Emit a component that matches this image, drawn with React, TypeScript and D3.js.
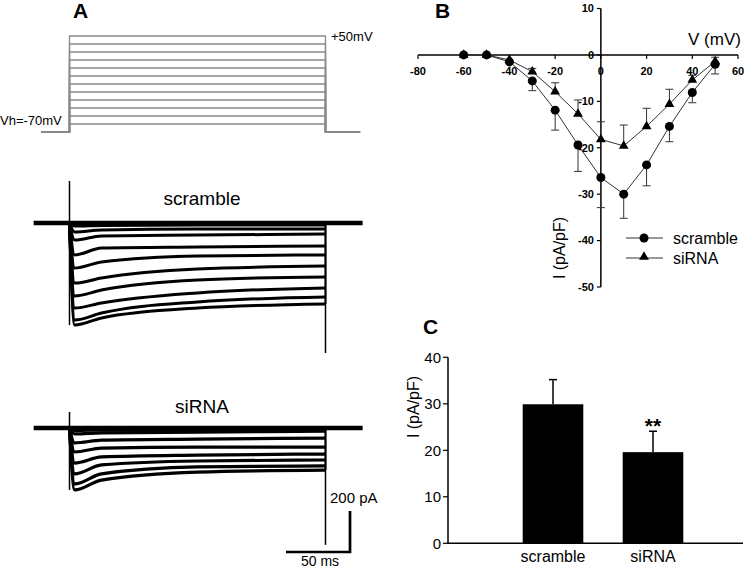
import React from 'react';
import * as d3 from 'd3';

// ---------- Panel A: voltage protocol ----------
const stepVoltages = [-60, -50, -40, -30, -20, -10, 0, 10, 20, 30, 40, 50];
const holdingV = -70;
const protocolStart = -22;
const protocolEnd = 227;
const pulseEnd = 200;

// ---------- Panel A: current traces (pA) read at traceTimes (ms) ----------
const traceTimes = [0, 4, 25, 100, 200];
const scrambleTraces = [
  [0, -498, -463, -415, -395],
  [0, -473, -439, -385, -361],
  [0, -415, -390, -341, -317],
  [0, -356, -327, -278, -263],
  [0, -293, -268, -224, -210],
  [0, -220, -190, -161, -156],
  [0, -156, -122, -117, -112],
  [0, -83, -63, -59, -54],
  [0, -44, -34, -29, -29],
  [0, -15, -12, -10, -10],
];
const sirnaTraces = [
  [0, -302, -254, -215, -205],
  [0, -273, -224, -190, -185],
  [0, -224, -180, -161, -156],
  [0, -171, -141, -132, -127],
  [0, -117, -98, -93, -93],
  [0, -73, -59, -54, -49],
  [0, -29, -24, -20, -15],
  [0, -12, -10, -8, -8],
];
const scrambleTransients = [205, -634]; // onset, tail (pA)
const sirnaTransients = [78, -570];
const recordSpan = [-28, 229];
const scaleBarTime = 50; // ms
const scaleBarCurrent = 200; // pA

// ---------- Panel B: I-V ----------
const ivVoltages = [-60, -50, -40, -30, -20, -10, 0, 10, 20, 30, 40, 50];
const ivScrambleMean = [0, 0, -1.5, -5.6, -11.9, -19.4, -26.4, -30.0, -23.7, -15.4, -8.1, -2.0];
const ivScrambleErr = [0, 0, 0.3, 2.1, 4.3, 5.7, 6.5, 5.2, 4.5, 3.3, 2.2, 2.1];
const ivSirnaMean = [0, 0, -1.1, -3.6, -7.9, -12.7, -18.2, -19.6, -15.4, -10.6, -5.4, -1.4];
const ivSirnaErr = [0, 0, 0.3, 0.7, 1.9, 3.0, 3.8, 4.5, 3.9, 3.2, 1.0, 0.9];
const ivXTicks = [-80, -60, -40, -20, 0, 20, 40, 60];
const ivYTicks = [10, 0, -10, -20, -30, -40, -50];

// ---------- Panel C: bars ----------
const barGroups = ['scramble', 'siRNA'];
const barMeans = [29.9, 19.6];
const barErrs = [5.3, 4.5];
const barYTicks = [0, 10, 20, 30, 40];

const FONT = 'Liberation Sans, Arial, Helvetica, sans-serif';

export default function App() {
  // Panel A scales
  const tX = d3.scaleLinear().domain([0, 200]).range([69.5, 325.5]);
  const vY = d3.scaleLinear().domain([-70, 50]).range([132, 36]);
  const scrY = d3.scaleLinear().domain([0, -200]).range([223, 264]);
  const sirY = d3.scaleLinear().domain([0, -200]).range([428, 469]);

  const protoLine = d3.line<[number, number]>().x(d => tX(d[0])).y(d => vY(d[1]));
  const protoPath = (v: number) =>
    protoLine([
      [protocolStart, holdingV],
      [0, holdingV],
      [0, v],
      [pulseEnd, v],
      [pulseEnd, holdingV],
      [protocolEnd, holdingV],
    ]) as string;

  const traceLine = (yS: d3.ScaleLinear<number, number>) =>
    d3
      .line<number>()
      .x((_, i) => tX(traceTimes[i]))
      .y(d => yS(d))
      .curve(d3.curveMonotoneX);

  const scrLine = traceLine(scrY);
  const sirLine = traceLine(sirY);

  // Panel B scales
  const ivX = d3.scaleLinear().domain([-80, 60]).range([418, 738]);
  const ivY = d3.scaleLinear().domain([-50, 10]).range([287, 8.5]);
  const ivLine = d3
    .line<number>()
    .x((_, i) => ivX(ivVoltages[i]))
    .y(d => ivY(d));
  const circle = d3.symbol().type(d3.symbolCircle).size(64)() as string;
  const tri = d3.symbol().type(d3.symbolTriangle).size(42)() as string;

  // Panel C scales
  const bX = d3.scaleBand().domain(barGroups).range([503, 703]).paddingInner(0.394).paddingOuter(0.197);
  const bY = d3.scaleLinear().domain([0, 40]).range([543.3, 357.3]);

  const scaleBarRight = 350;
  const scaleBarBottom = 552;
  const sbW = tX(scaleBarTime) - tX(0);
  const sbH = scrY(-scaleBarCurrent) - scrY(0);

  const renderTraces = (
    traces: number[][],
    yS: d3.ScaleLinear<number, number>,
    lineGen: d3.Line<number>,
    transients: number[],
    sw: number
  ) => (
    <g>
      <line x1={tX(recordSpan[0])} x2={tX(recordSpan[1])} y1={yS(0)} y2={yS(0)} stroke="#000" strokeWidth={4.5} />
      {traces.map((tr, i) => (
        <path key={i} d={lineGen(tr) as string} fill="none" stroke="#000" strokeWidth={sw} />
      ))}
      <line x1={tX(0)} x2={tX(0)} y1={yS(transients[0])} y2={yS(traces[0][1])} stroke="#000" strokeWidth={1.5} />
      <line x1={tX(pulseEnd)} x2={tX(pulseEnd)} y1={yS(0)} y2={yS(transients[1])} stroke="#000" strokeWidth={1.5} />
      <line x1={tX(pulseEnd)} x2={tX(pulseEnd)} y1={yS(0)} y2={yS(traces[0][4])} stroke="#000" strokeWidth={2} />
    </g>
  );

  return (
    <svg
      width={745}
      height={568}
      style={{ position: 'absolute', left: 0, top: 0, background: '#fff' }}
      fontFamily={FONT}
    >
      <rect width={745} height={568} fill="#fff" />
      {/* ---------- Panel A ---------- */}
      <text x={73} y={18} fontSize={21} fontWeight="bold">A</text>
      <g>
        {stepVoltages.map(v => (
          <path key={v} d={protoPath(v)} fill="none" stroke="#8a8a8a" strokeWidth={1.3} />
        ))}
      </g>
      <text x={331} y={41} fontSize={13}>+50mV</text>
      <text x={0} y={125} fontSize={13}>Vh=-70mV</text>

      <text x={202} y={205} fontSize={19} textAnchor="middle">scramble</text>
      {renderTraces(scrambleTraces, scrY, scrLine, scrambleTransients, 3)}

      <text x={202} y={413} fontSize={19} textAnchor="middle">siRNA</text>
      {renderTraces(sirnaTraces, sirY, sirLine, sirnaTransients, 3.2)}

      {/* scale bar */}
      <path
        d={`M${scaleBarRight - sbW},${scaleBarBottom}H${scaleBarRight}V${scaleBarBottom - sbH}`}
        fill="none"
        stroke="#000"
        strokeWidth={2.7}
      />
      <text x={330} y={503} fontSize={15}>200 pA</text>
      <text x={301} y={566} fontSize={14}>50 ms</text>

      {/* ---------- Panel B ---------- */}
      <text x={435} y={18} fontSize={21} fontWeight="bold">B</text>
      <g>
        <line x1={ivX(-80)} x2={ivX(60)} y1={ivY(0)} y2={ivY(0)} stroke="#000" strokeWidth={1.5} />
        <line x1={ivX(0)} x2={ivX(0)} y1={ivY(10)} y2={ivY(-50)} stroke="#000" strokeWidth={1.5} />
        {ivXTicks.map(t => (
          <g key={t}>
            <line x1={ivX(t)} x2={ivX(t)} y1={ivY(0)} y2={ivY(0) + 4} stroke="#000" strokeWidth={1.2} />
            <text x={ivX(t)} y={75} fontSize={11} fontWeight="bold" textAnchor="middle">{t}</text>
          </g>
        ))}
        {ivYTicks.map(t => (
          <g key={t}>
            <line x1={ivX(0) - 4} x2={ivX(0)} y1={ivY(t)} y2={ivY(t)} stroke="#000" strokeWidth={1.2} />
            <text x={594} y={ivY(t)} dy="0.35em" fontSize={11} fontWeight="bold" textAnchor="end">{t}</text>
          </g>
        ))}
        <text x={688} y={45} fontSize={17}>V (mV)</text>
        <text transform={`translate(565,248) rotate(-90)`} fontSize={16} textAnchor="middle">I (pA/pF)</text>

        {/* lines */}
        <path d={ivLine(ivSirnaMean) as string} fill="none" stroke="#333" strokeWidth={1} />
        <path d={ivLine(ivScrambleMean) as string} fill="none" stroke="#333" strokeWidth={1} />
        {/* error bars */}
        {ivVoltages.map((v, i) =>
          ivSirnaErr[i] > 0.5 ? (
            <g key={'se' + v} stroke="#333" strokeWidth={1}>
              <line x1={ivX(v)} x2={ivX(v)} y1={ivY(ivSirnaMean[i])} y2={ivY(ivSirnaMean[i] + ivSirnaErr[i])} />
              <line x1={ivX(v) - 4} x2={ivX(v) + 4} y1={ivY(ivSirnaMean[i] + ivSirnaErr[i])} y2={ivY(ivSirnaMean[i] + ivSirnaErr[i])} />
            </g>
          ) : null
        )}
        {ivVoltages.map((v, i) =>
          ivScrambleErr[i] > 0.5 ? (
            <g key={'ce' + v} stroke="#333" strokeWidth={1}>
              <line x1={ivX(v)} x2={ivX(v)} y1={ivY(ivScrambleMean[i])} y2={ivY(ivScrambleMean[i] - ivScrambleErr[i])} />
              <line x1={ivX(v) - 4} x2={ivX(v) + 4} y1={ivY(ivScrambleMean[i] - ivScrambleErr[i])} y2={ivY(ivScrambleMean[i] - ivScrambleErr[i])} />
            </g>
          ) : null
        )}
        {/* markers */}
        {ivVoltages.map((v, i) => (
          <path key={'st' + v} d={tri} transform={`translate(${ivX(v)},${ivY(ivSirnaMean[i])})`} fill="#000" />
        ))}
        {ivVoltages.map((v, i) => (
          <path key={'sc' + v} d={circle} transform={`translate(${ivX(v)},${ivY(ivScrambleMean[i])})`} fill="#000" />
        ))}
        {/* legend */}
        <line x1={626} x2={663} y1={238} y2={238} stroke="#333" strokeWidth={1} />
        <path d={circle} transform="translate(644,238)" fill="#000" />
        <text x={673} y={244} fontSize={16}>scramble</text>
        <line x1={626} x2={663} y1={258} y2={258} stroke="#333" strokeWidth={1} />
        <path d={tri} transform="translate(644,257)" fill="#000" />
        <text x={673} y={264} fontSize={16}>siRNA</text>
      </g>

      {/* ---------- Panel C ---------- */}
      <text x={423} y={334} fontSize={21} fontWeight="bold">C</text>
      <g>
        {barGroups.map((g, i) => {
          const x0 = bX(g) as number;
          const cx = x0 + bX.bandwidth() / 2;
          return (
            <g key={g}>
              <rect x={x0} y={bY(barMeans[i])} width={bX.bandwidth()} height={bY(0) - bY(barMeans[i])} fill="#000" />
              <line x1={cx} x2={cx} y1={bY(barMeans[i])} y2={bY(barMeans[i] + barErrs[i])} stroke="#000" strokeWidth={1.5} />
              <line x1={cx - 4} x2={cx + 4} y1={bY(barMeans[i] + barErrs[i])} y2={bY(barMeans[i] + barErrs[i])} stroke="#000" strokeWidth={1.5} />
              <text x={cx} y={562} fontSize={16} textAnchor="middle">{g}</text>
            </g>
          );
        })}
        <text x={(bX('siRNA') as number) + bX.bandwidth() / 2} y={433} fontSize={21} fontWeight="bold" textAnchor="middle">**</text>
        <line x1={448} x2={448} y1={bY(40)} y2={bY(0)} stroke="#000" strokeWidth={1.5} />
        <line x1={447.25} x2={743} y1={bY(0)} y2={bY(0)} stroke="#000" strokeWidth={1.5} />
        {barYTicks.map(t => (
          <g key={t}>
            <line x1={443} x2={448} y1={bY(t)} y2={bY(t)} stroke="#000" strokeWidth={1.2} />
            <text x={441} y={bY(t)} dy="0.35em" fontSize={15} textAnchor="end">{t}</text>
          </g>
        ))}
        <text transform={`translate(419,407) rotate(-90)`} fontSize={16} textAnchor="middle">I (pA/pF)</text>
      </g>
    </svg>
  );
}
